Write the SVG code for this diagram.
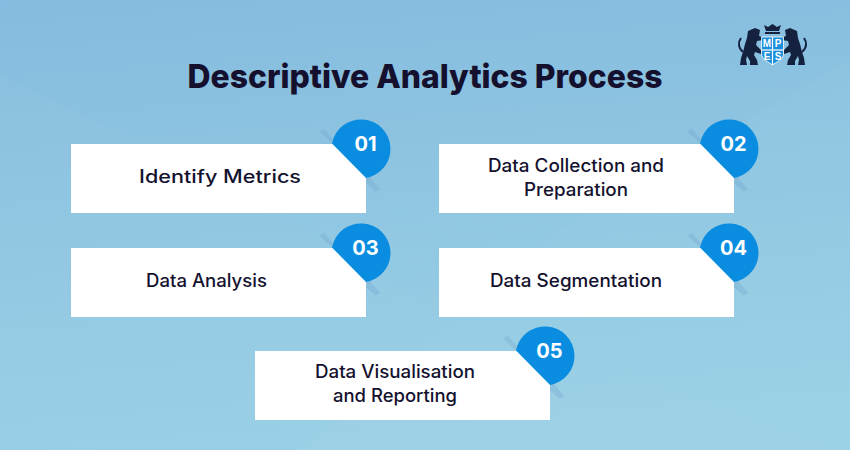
<svg xmlns="http://www.w3.org/2000/svg" width="850" height="450" viewBox="0 0 850 450">
<style>
.card{fill:#fff}
.badge{fill:#0a8de0}
.fold{fill:#6f9fcb;opacity:.28}
.label{font-family:"Inter","Noto Sans",sans-serif;font-size:18px;font-weight:500;fill:#14122f;text-anchor:middle}
.num{font-family:"Inter","Noto Sans",sans-serif;font-size:20px;font-weight:700;fill:#fff;text-anchor:middle}
.title{font-family:"Inter","Noto Sans",sans-serif;font-size:33px;font-weight:800;fill:#14102e;text-anchor:middle}
.lion{fill:#14213f}
.tail{fill:none;stroke:#14213f;stroke-width:2}
.mono{font-family:"Liberation Sans",sans-serif;font-size:10px;font-weight:700;fill:#fff;text-anchor:middle}
</style>
<defs>
<linearGradient id="bg" x1="0" y1="0" x2="0.15" y2="1">
<stop offset="0" stop-color="#85bbde"/><stop offset="1" stop-color="#9ad1e5"/>
</linearGradient>
<g id="badge">
<path class="fold" d="M-42-17L-29-4.500L-24-4.500L-38-20Z"/>
<path class="fold" d="M4.500 29.500V35L14 43L19 41L7 27Z"/>
<path class="badge" d="M-29.500-5A29.500 29.500 0 1 1 4.500 29.500Z"/>
</g>
<g id="lionshape">
<path class="lion" d="M748 31L755 28L760 30L759 36L762 37L763 40L757 41L756 45L761 50L761 54L755 52L754 55L757 60L758 65L750 65L750 61L747 56L746 60L747 65L740 65L741 58L743 52L745 44L747 38Z"/>
<path class="tail" d="M743 52C738 48 738 42 741 38"/>
</g>
</defs>
<rect width="850" height="450" fill="url(#bg)"/>
<path d="M0 75L190 165L420 300L850 450H0Z" fill="#9ccde6" opacity=".12"/>
<path d="M850 60L560 230L300 450H850Z" fill="#a2d2e6" opacity=".12"/>
<text class="title" x="425" y="88" textLength="475" lengthAdjust="spacingAndGlyphs">Descriptive Analytics Process</text>
<g id="logo">
<use href="#lionshape"/>
<use href="#lionshape" transform="translate(1545,0) scale(-1,1)"/>
<path d="M764 25L766 31H779L781 25L777 27L772.500 24L768 27Z" fill="#14213f"/>
<rect x="765" y="32" width="15" height="2" fill="#14213f"/>
<g transform="translate(772.500,50)">
<path d="M-11-13H11V4C11 9 4 12 0 15C-4 12-11 9-11 4Z" fill="#1c8fdc" stroke="#fff" stroke-width=".8"/>
<rect x="-.6" y="-13" width="1.200" height="28" fill="#fff"/>
<rect x="-11" y="-.6" width="22" height="1.200" fill="#fff"/>
<text class="mono" x="-5.500" y="-3">M</text><text class="mono" x="5.500" y="-3">P</text>
<text class="mono" x="-5.500" y="10">E</text><text class="mono" x="5.500" y="10">S</text>
</g>
</g>
<g id="node1"><rect class="card" x="71" y="144" width="295" height="69"/><use href="#badge" x="361.500" y="148.500"/><text class="num" x="365.500" y="151">01</text><text class="label" x="220" y="183" textLength="162" lengthAdjust="spacingAndGlyphs">Identify Metrics</text></g>
<g id="node2"><rect class="card" x="439" y="144" width="295" height="69"/><use href="#badge" x="729.500" y="148.500"/><text class="num" x="733.500" y="151">02</text><text class="label" x="576" y="172" textLength="176" lengthAdjust="spacingAndGlyphs">Data Collection and</text><text class="label" x="576" y="196" textLength="104" lengthAdjust="spacingAndGlyphs">Preparation</text></g>
<g id="node3"><rect class="card" x="71" y="248" width="295" height="69"/><use href="#badge" x="361.500" y="252.500"/><text class="num" x="365.500" y="255">03</text><text class="label" x="206.500" y="287" textLength="121" lengthAdjust="spacingAndGlyphs">Data Analysis</text></g>
<g id="node4"><rect class="card" x="439" y="248" width="295" height="69"/><use href="#badge" x="729.500" y="252.500"/><text class="num" x="733.500" y="255">04</text><text class="label" x="576" y="287" textLength="172" lengthAdjust="spacingAndGlyphs">Data Segmentation</text></g>
<g id="node5"><rect class="card" x="255" y="351" width="295" height="69"/><use href="#badge" x="545.500" y="355.500"/><text class="num" x="549.500" y="358">05</text><text class="label" x="395" y="378" textLength="160" lengthAdjust="spacingAndGlyphs">Data Visualisation</text><text class="label" x="395" y="402" textLength="124" lengthAdjust="spacingAndGlyphs">and Reporting</text></g>
<g id="connectors"></g>
</svg>
